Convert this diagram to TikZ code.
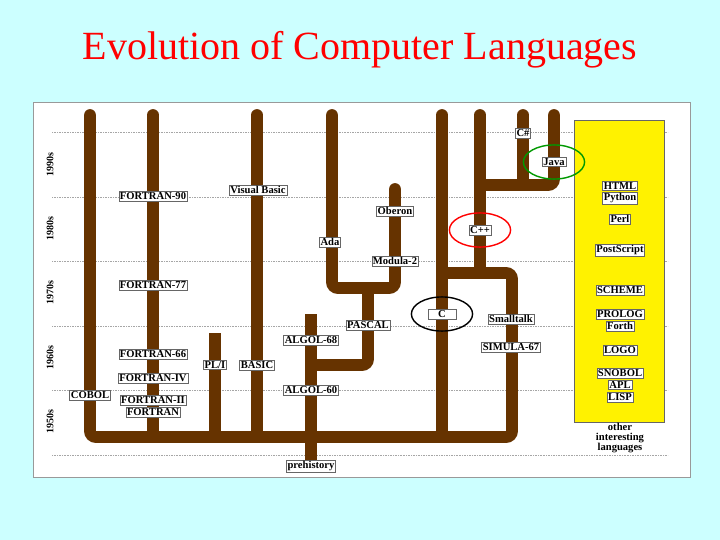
\documentclass[tikz,border=0pt]{standalone}
\usepackage{fontspec}
\setmainfont{Liberation Serif}
\usetikzlibrary{positioning}
\definecolor{slidebg}{RGB}{204,255,255}
\definecolor{branch}{RGB}{102,51,0}

\begin{document}
\begin{tikzpicture}[
        x=0.85pt, y=-0.85pt,
        lang/.style={draw=black!60, fill=white, inner sep=1pt, font=\fontsize{9}{10}\selectfont\bfseries},
        trunk/.style={draw=branch, line width=10pt, rounded corners=5pt},
        grid/.style={densely dotted, gray!70, line width=0.4pt},
        decade/.style={rotate=90, font=\fontsize{8.5}{9}\selectfont\bfseries},
        ring/.style={line width=1.2pt}
    ]
        \fill[slidebg] (0,0) rectangle (720,540);
        \useasboundingbox (0,0) rectangle (720,540);
        \node[text=red, font=\fontsize{34}{38}\selectfont] (title) at (360,50) {Evolution of Computer Languages};
        \draw[gray!80, fill=white, line width=0.8pt] (33,102) rectangle (690,477);

        % decades
        \foreach \y in {132,197,261,326,390,455}
            \draw[grid] (52,\y) -- (668,\y);
        \node[decade] at (50,165) {1990s};
        \node[decade] at (50,229) {1980s};
        \node[decade] at (50,293) {1970s};
        \node[decade] at (50,358) {1960s};
        \node[decade] at (50,422) {1950s};

        \fill[yellow] (574,120) rectangle (664,422);
        \draw[black!60] (574,120) rectangle (664,422);

        % trunks
        \draw[trunk, line cap=round] (90,115) -- (90,437) -- (512,437) -- (512,273) -- (442,273);
        \draw[trunk, line cap=round] (153,115) -- (153,437);
        \draw[trunk, line cap=round] (257,115) -- (257,437);
        \draw[trunk, line cap=round] (442,115) -- (442,437);
        \draw[trunk, line cap=round] (480,115) -- (480,273);
        \draw[trunk] (215,333) -- (215,437);
        \draw[trunk] (311,314) -- (311,462);
        \draw[trunk] (311,365) -- (368,365) -- (368,288);
        \draw[trunk, line cap=round] (332,115) -- (332,288) -- (395,288) -- (395,189);
        \draw[trunk] (395,200) -- (395,189);
        \draw[trunk, line cap=round] (480,185) -- (554,185) -- (554,115);
        \draw[trunk, line cap=round] (523,185) -- (523,115);

        % languages
        \node[lang] (cobol) at (90,395) {COBOL};
        \node[lang] (f90) at (153,196) {FORTRAN-90};
        \node[lang] (f77) at (153,285) {FORTRAN-77};
        \node[lang] (f66) at (153,354) {FORTRAN-66};
        \node[lang] (f4) at (153,378) {FORTRAN-IV};
        \node[lang] (f2) at (153,400) {FORTRAN-II};
        \node[lang] (f1) at (153,412) {FORTRAN};
        \node[lang] (vb) at (258,190) {Visual Basic};
        \node[lang] (pl1) at (215,365) {PL/I};
        \node[lang] (basic) at (257,365) {BASIC};
        \node[lang] (a68) at (311,340) {ALGOL-68};
        \node[lang] (a60) at (311,390) {ALGOL-60};
        \node[lang] (pre) at (311,466) {prehistory};
        \node[lang] (ada) at (330,242) {Ada};
        \node[lang] (pascal) at (368,325) {PASCAL};
        \node[lang] (oberon) at (395,211) {Oberon};
        \node[lang] (modula) at (395,261) {Modula-2};
        \node[lang, minimum width=24pt] (c) at (442,314) {C};
        \node[lang] (cpp) at (480,230) {C++};
        \node[lang] (small) at (511,319) {Smalltalk};
        \node[lang] (simula) at (511,347) {SIMULA-67};
        \node[lang] (cs) at (523,133) {C\#};
        \node[lang] (java) at (554,162) {Java};

        \draw[ring, black] (c.center) ellipse (26pt and 14.5pt);
        \draw[ring, red] (cpp.center) ellipse (26pt and 14.5pt);
        \draw[ring, green!60!black] (java.center) ellipse (26pt and 14.5pt);

        % other languages
        \foreach \name/\y in {HTML/186, Python/198, Perl/219, PostScript/250, SCHEME/290, PROLOG/314, Forth/326, LOGO/350, SNOBOL/373, APL/385, LISP/397}
            \node[lang] (\name) at (620,\y) {\name};
        \node[align=center, font=\fontsize{9}{8.5}\selectfont\bfseries] (other) at (620,438) {other\\interesting\\languages};
    \end{tikzpicture}
\end{document}
